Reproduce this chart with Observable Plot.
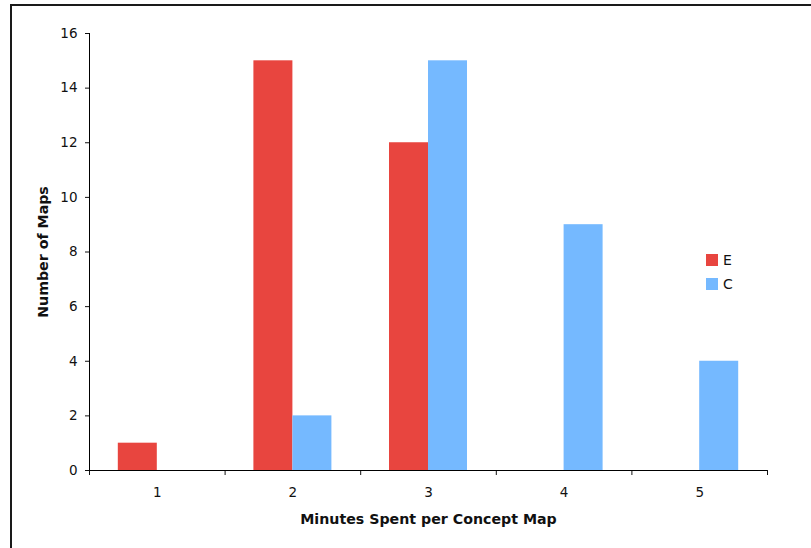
<!DOCTYPE html>
<html>
<head>
<meta charset="utf-8">
<script src="https://cdn.jsdelivr.net/npm/d3@7"></script>
<script src="https://cdn.jsdelivr.net/npm/@observablehq/plot@0.6"></script>
<style>
  html, body { margin: 0; padding: 0; background: #fff; overflow: hidden; width: 811px; height: 548px; }
  #wrap { position: relative; width: 811px; height: 548px; }
  #border { position: absolute; left: 10px; top: 4px; width: 900px; height: 700px; border: 2px solid #1a1a1a; box-sizing: border-box; }
  #chart { position: absolute; left: 0; top: 0; }
  #chart svg text { font-size: 13.5px; }
  #chart svg text.axis-title { font-size: 14.2px; font-weight: bold; }
  #legend { position: absolute; left: 706px; top: 248px; font: 14px "DejaVu Sans", Verdana, sans-serif; color: #111; }
  .item { display: flex; align-items: center; height: 24px; }
  .sw { width: 12px; height: 12px; margin-right: 5px; }
</style>
</head>
<body>
<div id="wrap">
  <div id="border"></div>
  <div id="chart"></div>
  <div id="legend"></div>
</div>
<script>
const categories = [1, 2, 3, 4, 5];
const seriesNames = ["E", "C"];
const valuesE = [1, 15, 12, 0, 0];
const valuesC = [0, 2, 15, 9, 4];
const yTicks = [0, 2, 4, 6, 8, 10, 12, 14, 16];
const colors = ["#E8453F", "#75B9FF"];

const data = categories.map((c, i) => ({cat: c, E: valuesE[i], C: valuesC[i]}));
const boundaries = categories.map(c => c - 0.5).concat([categories[categories.length - 1] + 0.5]);

const W = 811, H = 548, mL = 89, mR = 44, mT = 33, mB = 78;
const band = (W - mL - mR) / categories.length;
const barW = 39;

const font = '"DejaVu Sans", Verdana, sans-serif';

const chart = Plot.plot({
  width: W,
  height: H,
  marginLeft: mL,
  marginRight: mR,
  marginTop: mT,
  marginBottom: mB,
  style: {fontFamily: font, fontSize: "13.5px", color: "#111", background: "transparent"},
  x: {type: "linear", domain: [0.5, 5.5]},
  y: {domain: [0, 16]},
  marks: [
    Plot.rectY(data.filter(d => d.E > 0), {x1: d => d.cat - 0.5, x2: d => d.cat + 0.5, y: "E", fill: colors[0], insetLeft: band / 2 - barW, insetRight: band / 2}),
    Plot.rectY(data.filter(d => d.C > 0), {x1: d => d.cat - 0.5, x2: d => d.cat + 0.5, y: "C", fill: colors[1], insetLeft: band / 2, insetRight: band / 2 - barW}),
    Plot.axisY({ticks: yTicks, tickSize: 4, tickPadding: 8, label: "Number of Maps", labelAnchor: "center", labelArrow: "none", labelOffset: 52}),
    Plot.axisX({ticks: categories, tickSize: 0, tickPadding: 17, tickFormat: d => String(d), label: "Minutes Spent per Concept Map", labelAnchor: "center", labelArrow: "none", labelOffset: 53}),
    Plot.axisX({ticks: boundaries, tickSize: 5, tickFormat: () => "", label: null}),
    Plot.ruleY([0], {stroke: "#000"}),
    Plot.ruleX([0.5], {stroke: "#000"})
  ]
});
chart.querySelectorAll("g[aria-label='y-axis label'] text, g[aria-label='x-axis label'] text").forEach(t => t.classList.add("axis-title"));
document.getElementById("chart").appendChild(chart);

const legend = document.getElementById("legend");
seriesNames.forEach((s, i) => {
  const item = document.createElement("div");
  item.className = "item";
  const sw = document.createElement("span");
  sw.className = "sw";
  sw.style.background = colors[i];
  item.appendChild(sw);
  item.appendChild(document.createTextNode(s));
  legend.appendChild(item);
});
</script>
</body>
</html>
